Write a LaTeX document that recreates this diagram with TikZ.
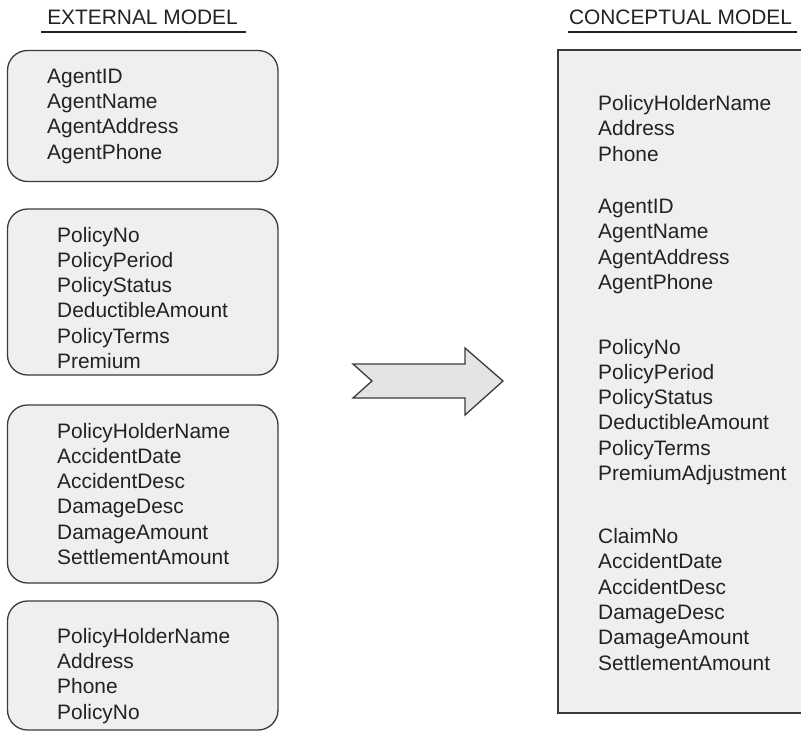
\documentclass[tikz,border=0pt]{standalone}
\usepackage{fontspec}
\setmainfont{Liberation Sans}
\definecolor{boxfill}{HTML}{EFEFEF}
\definecolor{cfill}{HTML}{EEEFF1}
\definecolor{arrfill}{HTML}{E4E4E4}
\definecolor{edge}{HTML}{3A3A3A}
\definecolor{ink}{HTML}{222222}
\begin{document}
\begin{tikzpicture}[x=1pt,y=-1pt,
  extbox/.style={draw=edge, line width=1.3pt, fill=boxfill, rounded corners=20pt},
  conbox/.style={draw=edge, line width=1.3pt, fill=cfill},
  % anchored at the baseline of the LAST line
  lines/.style={anchor=base west, inner sep=0pt, align=left, text=ink,
    font=\fontsize{20.9}{25.3}\selectfont},
  header/.style={anchor=base, inner sep=0pt, text=ink, font=\fontsize{20.9}{25}\selectfont},
  rule/.style={draw=ink, line width=2pt}
]
\useasboundingbox (0,0) rectangle (801,731);

% headers
\node[header] (hext) at (142.5,24) {EXTERNAL MODEL};
\coordinate (ue1) at (41,32);
\coordinate (ue2) at (246,32);
\draw[rule] (ue1) -- (ue2);
\node[header] (hcon) at (680.5,24) {CONCEPTUAL MODEL};
\coordinate (uc1) at (568,32);
\coordinate (uc2) at (797,32);
\draw[rule] (uc1) -- (uc2);

% external boxes
\path[extbox] (7.5,50.5) rectangle (278,181.5);
\path[extbox] (7.5,209) rectangle (278,375);
\path[extbox] (7.5,405) rectangle (278,583);
\path[extbox] (7.5,601) rectangle (278,730);

\node[lines] (t1) at (47,159) {AgentID\\AgentName\\AgentAddress\\AgentPhone};
\node[lines] (t2) at (57,368.5) {PolicyNo\\PolicyPeriod\\PolicyStatus\\DeductibleAmount\\PolicyTerms\\Premium};
\node[lines] (t3) at (57,564.5) {PolicyHolderName\\AccidentDate\\AccidentDesc\\DamageDesc\\DamageAmount\\SettlementAmount};
\node[lines] (t4) at (57,719) {PolicyHolderName\\Address\\Phone\\PolicyNo};

% arrow
\path[draw=edge, line width=1.3pt, fill=arrfill, line join=miter]
  (353,364) -- (465,364) -- (465,348) -- (503,381) -- (465,415) -- (465,398) -- (353,398) -- (372,381) -- cycle;

% conceptual box
\path[conbox] (558,50) rectangle (812,713);
\node[lines] (c1) at (598,161) {PolicyHolderName\\Address\\Phone};
\node[lines] (c2) at (598,289.5) {AgentID\\AgentName\\AgentAddress\\AgentPhone};
\node[lines] (c3) at (598,480.5) {PolicyNo\\PolicyPeriod\\PolicyStatus\\DeductibleAmount\\PolicyTerms\\PremiumAdjustment};
\node[lines] (c4) at (598,670) {ClaimNo\\AccidentDate\\AccidentDesc\\DamageDesc\\DamageAmount\\SettlementAmount};
\end{tikzpicture}
\end{document}
